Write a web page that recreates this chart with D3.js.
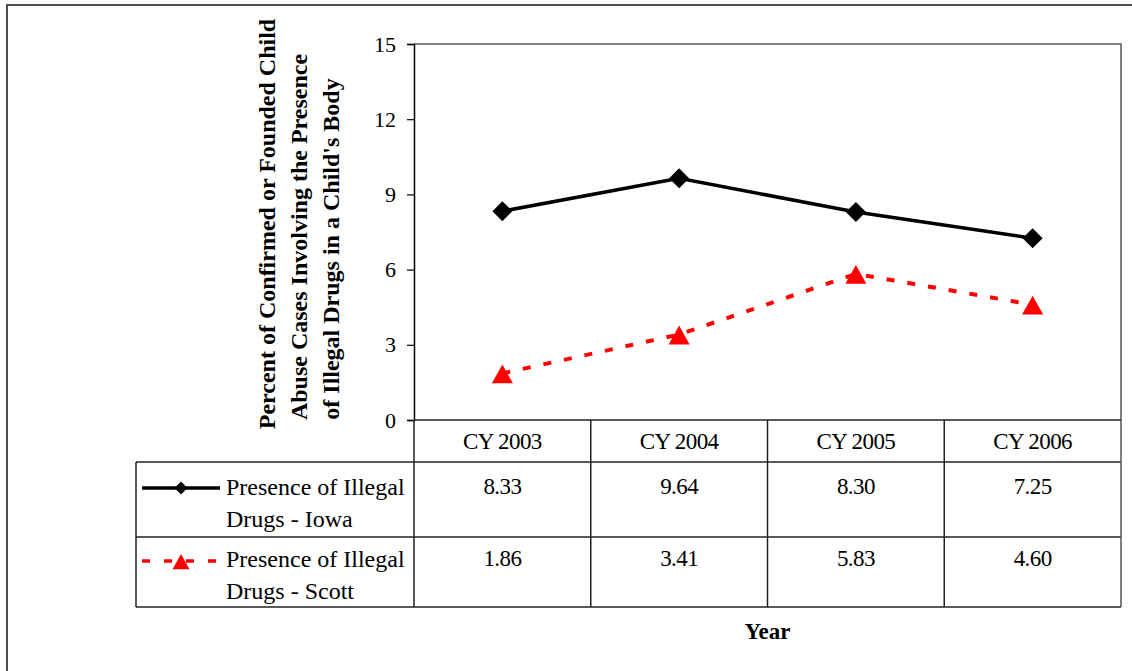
<!DOCTYPE html>
<html>
<head>
<meta charset="utf-8">
<script src="https://cdn.jsdelivr.net/npm/d3@7"></script>
<style>
  html, body { margin: 0; padding: 0; background: #fff; }
  svg { display: block; }
  svg text { font-family: "Liberation Serif", "Times New Roman", serif; fill: #000; }
</style>
</head>
<body>
<svg id="chart" width="1132" height="671"></svg>
<script>
// Calendar years shown in the data table
const years = ["CY 2003", "CY 2004", "CY 2005", "CY 2006"];
// Percent of confirmed/founded child abuse cases with illegal drugs in a child's body
const iowaValues = [8.33, 9.64, 8.30, 7.25];
const scottValues = [1.86, 3.41, 5.83, 4.60];
const seriesNames = [
  ["Presence of Illegal", "Drugs - Iowa"],
  ["Presence of Illegal", "Drugs - Scott"]
];
const yTicks = [0, 3, 6, 9, 12, 15];
const yTitleLines = [
  "Percent of Confirmed or Founded Child",
  "Abuse Cases Involving the Presence",
  "of Illegal Drugs in a Child's Body"
];
const xTitle = "Year";

const serif = "'Liberation Serif', 'Times New Roman', serif";
const svg = d3.select("#chart");

const plot = { left: 414, right: 1121, top: 44, bottom: 420 };
const table = { left: 136, rows: [462, 537, 607] };

const x = d3.scaleBand().domain(years).range([plot.left, plot.right]).padding(0);
const y = d3.scaleLinear().domain([0, 15]).range([plot.bottom, plot.top]);
const cx = d => x(d) + x.bandwidth() / 2;

// Outer frame
svg.append("rect")
  .attr("x", 7).attr("y", 5).attr("width", 1140).attr("height", 680)
  .attr("fill", "none").attr("stroke", "#222").attr("stroke-width", 1.6);

// Plot frame: grey top and right edges
svg.append("path")
  .attr("d", `M${plot.left},${plot.top}H${plot.right}V${plot.bottom}`)
  .attr("fill", "none").attr("stroke", "#808080").attr("stroke-width", 2);

// Y axis
const yAxis = svg.append("g")
  .attr("transform", `translate(${plot.left},0)`)
  .call(d3.axisLeft(y).tickValues(yTicks).tickSize(7).tickPadding(11).tickFormat(d3.format("d")))
  .attr("font-family", serif).attr("font-size", 22);
yAxis.select(".domain").attr("stroke", "#000").attr("stroke-width", 1.5);
yAxis.selectAll(".tick line").attr("stroke", "#000").attr("stroke-width", 1.2);
yAxis.selectAll(".tick text").attr("fill", "#000");

// Y axis title (three rotated lines)
const titleLayout = [
  { x: 275, cy: 224 },
  { x: 307, cy: 237 },
  { x: 339, cy: 249 }
];
yTitleLines.forEach((t, i) => {
  svg.append("text")
    .attr("transform", `translate(${titleLayout[i].x},${titleLayout[i].cy}) rotate(-90)`)
    .attr("text-anchor", "middle")
    .style("font-family", serif)
    .style("font-size", "24px").style("font-weight", "bold")
    .text(t);
});

// Data table grid
const grid = svg.append("g").attr("stroke", "#222").attr("stroke-width", 1.5).attr("fill", "none");
grid.append("line").attr("x1", plot.left).attr("x2", plot.right).attr("y1", plot.bottom).attr("y2", plot.bottom);
table.rows.forEach(ry => {
  grid.append("line").attr("x1", table.left).attr("x2", plot.right).attr("y1", ry).attr("y2", ry);
});
grid.append("line").attr("x1", table.left).attr("x2", table.left)
  .attr("y1", table.rows[0]).attr("y2", table.rows[2]);
years.forEach(c => {
  grid.append("line").attr("x1", x(c)).attr("x2", x(c))
    .attr("y1", plot.bottom).attr("y2", table.rows[2]);
});
grid.append("line").attr("x1", plot.right).attr("x2", plot.right)
  .attr("y1", plot.bottom).attr("y2", table.rows[2]).attr("stroke", "#555");

// Category headers
svg.append("g").selectAll("text").data(years).join("text")
  .attr("x", d => cx(d)).attr("y", 449)
  .attr("text-anchor", "middle")
  .style("font-family", serif).style("font-size", "23px")
  .style("letter-spacing", "-0.6px")
  .text(d => d);

// Series definitions
const series = [
  { values: iowaValues, color: "#000", dash: null, marker: "diamond", names: seriesNames[0] },
  { values: scottValues, color: "#ff0000", dash: "8,13", marker: "triangle", names: seriesNames[1] }
];

const diamond = s => `M0,${-s}L${s},0L0,${s}L${-s},0Z`;
const triangle = s => `M0,${-s * 0.95}L${s},${s * 0.85}L${-s},${s * 0.85}Z`;
const markerPath = m => m === "diamond" ? diamond(10) : triangle(10.5);

const line = d3.line().x((d, i) => cx(years[i])).y(d => y(d));

series.forEach((s, si) => {
  // Line
  svg.append("path")
    .datum(s.values)
    .attr("d", line)
    .attr("fill", "none")
    .attr("stroke", s.color)
    .attr("stroke-width", si === 0 ? 3.5 : 4)
    .attr("stroke-dasharray", s.dash);
  // Markers
  svg.append("g").selectAll("path").data(s.values).join("path")
    .attr("transform", (d, i) => `translate(${cx(years[i])},${y(d) + (s.marker === "triangle" ? 1 : 0)})`)
    .attr("d", markerPath(s.marker))
    .attr("fill", s.color);

  // Table row
  const rowTop = table.rows[si];
  const lineY = rowTop + (si === 0 ? 26 : 24);
  const base = rowTop + (si === 0 ? 33 : 30);
  // Legend key
  svg.append("line")
    .attr("x1", 142).attr("x2", 220).attr("y1", lineY).attr("y2", lineY)
    .attr("stroke", s.color).attr("stroke-width", 3.5)
    .attr("stroke-dasharray", s.dash ? "8,14" : null);
  svg.append("path")
    .attr("transform", `translate(181,${lineY + (s.marker === "triangle" ? 1 : 0)})`)
    .attr("d", s.marker === "diamond" ? diamond(6.5) : triangle(8.5))
    .attr("fill", s.color);
  // Legend label
  const label = svg.append("text").attr("x", 226).attr("y", base)
    .style("font-family", serif).style("font-size", "24px");
  label.append("tspan").attr("x", 226).attr("y", base).text(s.names[0]);
  label.append("tspan").attr("x", 226).attr("y", base + 32).text(s.names[1]);
  // Values
  svg.append("g").selectAll("text").data(s.values).join("text")
    .attr("x", (d, i) => cx(years[i])).attr("y", base - 1)
    .attr("text-anchor", "middle")
    .style("font-family", serif).style("font-size", "23px")
    .style("letter-spacing", "-0.6px")
    .text(d => d3.format(".2f")(d));
});

// X axis title
svg.append("text")
  .attr("x", cx(years[2]) - x.bandwidth() / 2).attr("y", 639)
  .attr("text-anchor", "middle")
  .style("font-family", serif)
  .style("font-size", "23px").style("font-weight", "bold")
  .text(xTitle);
</script>
</body>
</html>
